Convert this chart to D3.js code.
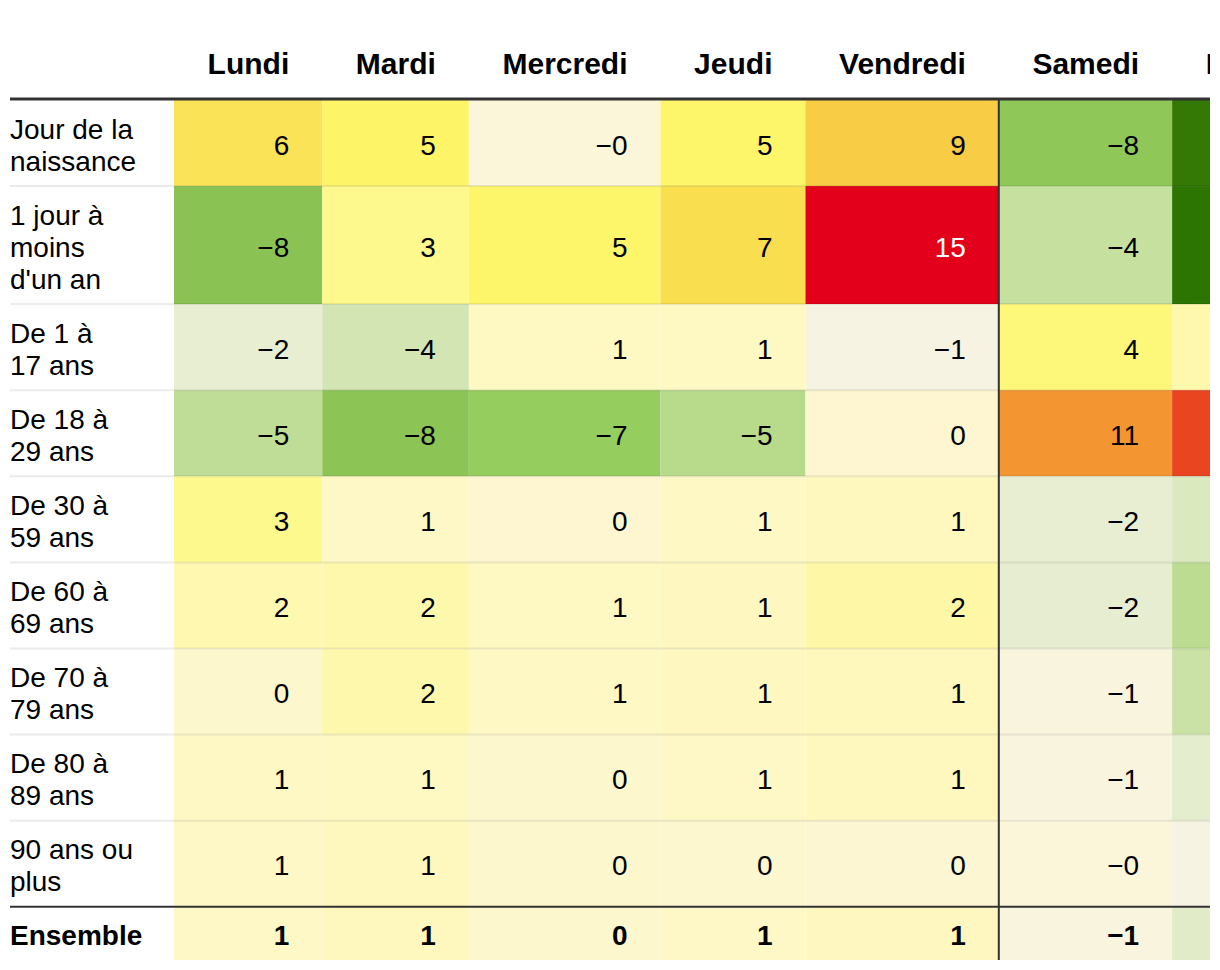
<!DOCTYPE html>
<html><head><meta charset="utf-8">
<script src="https://cdn.jsdelivr.net/npm/d3@7"></script>
<style>html,body{margin:0;padding:0;background:#fff;} svg{display:block;font-family:"Liberation Sans",Arial,Helvetica,sans-serif;}</style>
</head><body><svg id="chart" width="1220" height="970"></svg>
<script>
// ---- data ----
const days = ["Lundi","Mardi","Mercredi","Jeudi","Vendredi","Samedi","Dimanche"];
const groups = ["Jour de la\nnaissance","1 jour à\nmoins\nd'un an","De 1 à\n17 ans","De 18 à\n29 ans","De 30 à\n59 ans","De 60 à\n69 ans","De 70 à\n79 ans","De 80 à\n89 ans","90 ans ou\nplus","Ensemble"];
const valuesJourNaissance = [6.2, 5.1, -0.3, 5.0, 9.1, -7.9, -13.0];
const values1JourMoins1An = [-8.2, 3.0, 5.0, 7.0, 15.0, -4.4, -14.0];
const values1a17 = [-2.0, -3.6, 1.0, 1.0, -1.0, 4.0, 2.0];
const values18a29 = [-4.8, -8.1, -7.2, -5.3, 0.2, 11.0, 13.0];
const values30a59 = [3.0, 0.8, 0.2, 0.9, 1.2, -2.0, -3.0];
const values60a69 = [1.8, 2.0, 1.0, 1.1, 2.2, -2.1, -5.0];
const values70a79 = [0.4, 2.0, 0.9, 1.1, 1.3, -0.7, -4.2];
const values80a89 = [0.9, 1.0, 0.4, 0.8, 1.2, -0.6, -2.2];
const values90plus = [0.8, 1.2, 0.4, 0.3, 0.1, -0.3, -1.0];
const valuesEnsemble = [0.8, 1.2, 0.4, 0.8, 1.1, -0.6, -2.5];
const allValues = [valuesJourNaissance, values1JourMoins1An, values1a17, values18a29, values30a59, values60a69, values70a79, values80a89, values90plus, valuesEnsemble];

const colorDomain = [-14,-12,-8,-7,-5,-4,-2,-1,0,1,2,3,4,5,6,7,9,11,13,15];
const colorRange = ["#2b7500","#3d7d0a","#8ec658","#98cf61","#bcdc92","#cde3aa","#e7eed2","#f6f3e2","#fdf6d5","#fef8c2","#fef8ad","#fef98c","#fef87a","#fef66a","#fbe45a","#f9df50","#f8cf45","#f39530","#e94520","#e2001a"];

// ---- layout ----
const svg = d3.select("#chart");
const left = 10, right = 1210, bottom = 960, labelColRight = 174;
const headerBaseline = 73.5, tableTop = 100;
const padR = 33, lineH = 31.9, rowPad = 22.3, textOff = 11.5;

svg.append("defs").append("clipPath").attr("id","clip")
  .append("rect").attr("x",left).attr("y",0).attr("width",right-left).attr("height",bottom);
const g = svg.append("g").attr("clip-path","url(#clip)");

// column widths from header text widths
const meas = svg.append("text").attr("font-size",30).attr("font-weight","bold");
const widths = days.map(d => { meas.text(d); return meas.node().getComputedTextLength() + 66.6; });
meas.remove();
const xStarts = []; let acc = labelColRight; widths.forEach(w => { xStarts.push(acc); acc += w; });
const x = d3.scaleOrdinal(days, xStarts);
const colW = d3.scaleOrdinal(days, widths);

// row heights from number of label lines
const lines = groups.map(s => s.split("\n"));
const heights = lines.map(l => l.length * lineH + rowPad);
const yStarts = []; let accY = tableTop; heights.forEach(h => { yStarts.push(accY); accY += h; });
const y = d3.scaleOrdinal(groups, yStarts);
const rowH = d3.scaleOrdinal(groups, heights);

const color = d3.scaleLinear().domain(colorDomain).range(colorRange).clamp(true);
const fmt = v => (v < 0 ? "\u2212" : "") + Math.round(Math.abs(v));

const cells = [];
groups.forEach((grp, i) => days.forEach((d, j) => cells.push({grp, day: d, v: allValues[i][j], bold: grp === "Ensemble"})));

// cells
g.selectAll("rect.cell").data(cells).join("rect").attr("class","cell")
  .attr("x", d => x(d.day)).attr("y", d => y(d.grp))
  .attr("width", d => colW(d.day)).attr("height", d => rowH(d.grp))
  .attr("fill", d => color(d.v));

// row separators
groups.slice(1, groups.length - 1).forEach(grp => {
  g.append("line").attr("x1",left).attr("x2",right).attr("y1",y(grp)).attr("y2",y(grp))
    .attr("stroke","rgba(0,0,0,0.08)").attr("stroke-width",2);
});
const ensY = y("Ensemble");
g.append("line").attr("x1",left).attr("x2",right).attr("y1",ensY).attr("y2",ensY)
  .attr("stroke","#333").attr("stroke-width",2);

// header line
g.append("line").attr("x1",left).attr("x2",right).attr("y1",tableTop-1).attr("y2",tableTop-1)
  .attr("stroke","#333").attr("stroke-width",3);

// weekend separator
g.append("line").attr("x1",x("Samedi")).attr("x2",x("Samedi")).attr("y1",tableTop).attr("y2",bottom)
  .attr("stroke","#333").attr("stroke-width",2);

// values (only those whose text lies inside the visible window)
const visibleCells = cells.filter(d => x(d.day) + colW(d.day) - padR - 40 < right);
g.selectAll("text.val").data(visibleCells).join("text").attr("class","val")
  .attr("x", d => x(d.day) + colW(d.day) - padR)
  .attr("y", d => y(d.grp) + rowH(d.grp) / 2 + textOff)
  .attr("text-anchor","end").attr("font-size",28)
  .attr("font-weight", d => d.bold ? "bold" : "normal")
  .attr("fill", d => d3.hsl(color(d.v)).l < 0.5 ? "#fff" : "#000")
  .text(d => fmt(d.v));

// column headers
g.selectAll("text.hdr").data(days).join("text").attr("class","hdr")
  .attr("x", d => x(d) + colW(d) - padR).attr("y", headerBaseline)
  .attr("text-anchor","end").attr("font-size",30).attr("font-weight","bold").attr("fill","#000")
  .text(d => d);

// row labels
groups.forEach((grp, i) => {
  const ls = lines[i];
  const cy = y(grp) + rowH(grp) / 2;
  const t = g.append("text").attr("x", left).attr("font-size", 28)
    .attr("font-weight", grp === "Ensemble" ? "bold" : "normal").attr("fill","#000");
  ls.forEach((l, k) => {
    t.append("tspan").attr("x", left).attr("y", cy - (ls.length - 1) * lineH / 2 + k * lineH + textOff).text(l);
  });
});
</script></body></html>
